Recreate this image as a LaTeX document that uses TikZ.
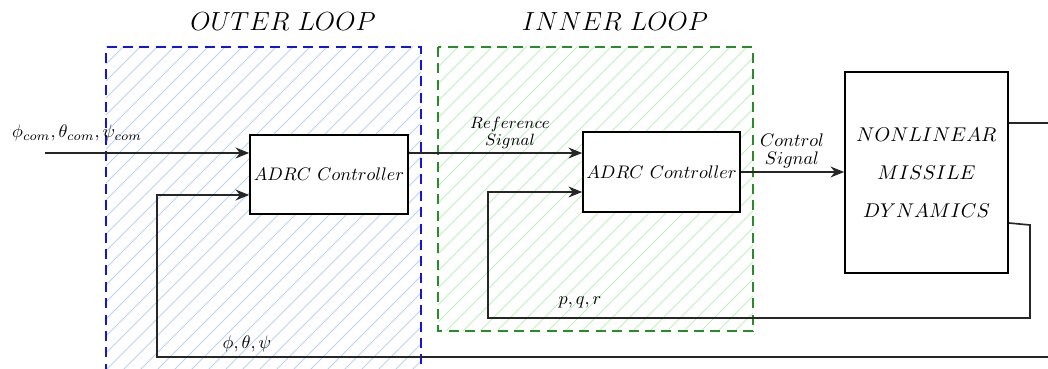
\documentclass[tikz,border=0pt]{standalone}
\usetikzlibrary{arrows.meta}
\definecolor{hatchblue}{RGB}{185,212,242}
\definecolor{hatchgreen}{RGB}{190,240,190}
\definecolor{dashblue}{RGB}{20,20,225}
\definecolor{dashgreen}{RGB}{40,140,40}
\tikzset{
  blockbox/.style={draw, fill=white, line width=0.9pt, inner sep=0pt, font=\normalsize},
  conn/.style={line width=0.9pt, draw=black!85},
  arr/.style={conn, -{Stealth[length=7.5pt,width=6pt]}},
  loopframe/.style={line width=1.1pt, dash pattern=on 5.5pt off 3.5pt},
  hatch/.style={line width=0.5pt},
  lbl/.style={inner sep=1pt, font=\normalsize},
  title/.style={font=\fontsize{13.6}{16}\selectfont}
}
\begin{document}
\begin{tikzpicture}[x=0.55pt,y=-0.55pt]
\useasboundingbox (0,0) rectangle (1048,369);
\clip (0,0) rectangle (1048,369);
% outer loop hatching
\begin{scope}
  \clip (106,47) rectangle (421,390);
  \foreach \k in {-2,...,50} \draw[hatch, hatchblue] (\k*17-420,420) -- ++(460,-460);
\end{scope}
\begin{scope}
  \clip (438,47) rectangle (753,331);
  \foreach \k in {-2,...,70} \draw[hatch, hatchgreen] (\k*17,420) -- ++(460,-460);
\end{scope}
\draw[loopframe, dashblue] (106,390) -- (106,47) -- (421,47) -- (421,390);
\draw[loopframe, dashgreen] (438,47) rectangle (753,331);
\node[title] (t1) at (283,22) {$OUTER\ LOOP$};
\node[title] (t2) at (615,22) {$INNER\ LOOP$};
% blocks
\node[blockbox, minimum width=86.9pt, minimum height=43.5pt] (b1) at (329,174.5) {$ADRC\ Controller$};
\node[blockbox, minimum width=86.4pt, minimum height=44pt] (b2) at (661.5,172) {$ADRC\ Controller$};
\node[blockbox, minimum width=89.7pt, minimum height=110.6pt, align=center, font=\fontsize{11}{21}\selectfont] (pl) at (926.5,172.5) {$NONLINEAR$\\$MISSILE$\\$DYNAMICS$};
% helper coordinates
\coordinate (in) at (45,153);
\coordinate (y153) at (0,153);
\coordinate (y195) at (0,195);
\coordinate (y192) at (0,192);
\coordinate (y123) at (0,123);
\coordinate (y223) at (0,223);
\coordinate (oend) at (1060,123);
\coordinate (fbA) at (1060,357);
\coordinate (fbB) at (157,357);
\coordinate (ifA) at (1030,225);
\coordinate (ifB) at (1030,318);
\coordinate (ifC) at (488,318);
% connectors
\draw[arr] (in) -- (in -| b1.west);
\draw[arr] (b1.east |- y153) -- (b2.west |- y153);
\draw[arr] (b2.east) -- (b2.east -| pl.west);
\draw[conn] (pl.east |- y123) -- (oend);
\draw[arr] (fbA) -- (fbB) |- (b1.west |- y195);
\draw[arr] (pl.east |- y223) -- (ifA) -- (ifB) -- (ifC) |- (b2.west |- y192);
% labels
\node[lbl, anchor=west] (lin) at (10,133) {$\phi_{com},\theta_{com},\psi_{com}$};
\node[lbl, align=center, font=\small] (lref) at (510,133) {$Reference$\\[-2pt]$Signal$};
\node[lbl, align=center] (lctl) at (792,151) {$Control$\\[-2pt]$Signal$};
\node[lbl] (lout) at (247,344) {$\phi,\theta,\psi$};
\node[lbl] (lin2) at (580,302) {$p,q,r$};
\end{tikzpicture}
\end{document}
